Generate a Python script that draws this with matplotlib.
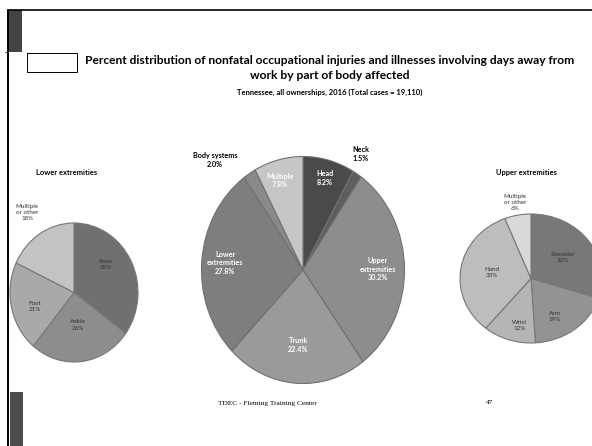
import matplotlib
matplotlib.use("Agg")
import matplotlib.pyplot as plt
from matplotlib.patches import Rectangle
import numpy as np

W, H = 592, 446

# ---- data -------------------------------------------------------------
body_parts = ["Head", "Neck", "Upper\nextremities", "Trunk", "Lower\nextremities",
              "Body systems", "Multiple"]
body_pct = [8.2, 1.5, 30.2, 22.4, 27.8, 2.0, 7.8]

lower_parts = ["Knee", "Ankle", "Foot", "Multiple\nor other"]
lower_pct = [35, 26, 21, 18]

upper_parts = ["Shoulder", "Arm", "Wrist", "Hand", "Multiple\nor other"]
upper_pct = [30, 19, 12, 33, 6]

title_text = ("Percent distribution of nonfatal occupational injuries and illnesses involving days away from\n"
              "work by part of body affected")
subtitle_text = "Tennessee, all ownerships, 2016 (Total cases = 19,110)"
footer_text = "TDEC - Fleming Training Center"
page_number = "47"

# ---- styling ----------------------------------------------------------
body_colors = ["#4a4a4a", "#5e5e5e", "#8d8d8d", "#9a9a9a", "#7e7e7e", "#8a8a8a", "#c6c6c6"]
lower_colors = ["#707070", "#8d8d8d", "#a9a9a9", "#c3c3c3"]
upper_colors = ["#787878", "#939393", "#b5b5b5", "#bdbdbd", "#d9d9d9"]

fig = plt.figure(figsize=(W / 100, H / 100), dpi=100)
fig.patch.set_facecolor("white")

# slide frame drawn in pixel coordinates
bg = fig.add_axes([0, 0, 1, 1], zorder=-5)
bg.set_xlim(0, W)
bg.set_ylim(H, 0)
bg.axis("off")
bg.plot([7, W], [10, 10], color="black", lw=1.2, solid_capstyle="butt")
bg.plot([8, 8], [10, H], color="black", lw=1.4, solid_capstyle="butt")
bg.plot([5, 8], [52, 52], color="black", lw=0.6, solid_capstyle="butt")
bg.add_patch(Rectangle((8, 10), 14, 42, color="#444444", lw=0))
bg.add_patch(Rectangle((9.5, 392), 13.5, H - 392, color="#4d4d4d", lw=0))
bg.add_patch(Rectangle((27, 53), 50, 19, facecolor="white", edgecolor="black", lw=0.7))

bg.text(330, 68, title_text, ha="center", va="center", fontsize=8.65,
        fontweight="bold", family="Lato", linespacing=1.42)
bg.text(330, 92, subtitle_text, ha="center", va="center", fontsize=5.5,
        fontweight="bold", family="Lato")
bg.text(267, 403, footer_text, ha="center", va="center", fontsize=5.3,
        family="Liberation Serif")
bg.text(490, 403, page_number, ha="center", va="center", fontsize=5.3,
        family="Liberation Serif")


def pie_axes(cx, cy, hw, hh):
    ax = fig.add_axes([(cx - hw) / W, (H - (cy + hh)) / H, 2 * hw / W, 2 * hh / H])
    return ax


def draw_pie(ax, values, colors, edge):
    wedges, _ = ax.pie(values, colors=colors, startangle=90, counterclock=False,
                       radius=1, wedgeprops=dict(edgecolor=edge, linewidth=0.8))
    ax.set_aspect("auto")
    ax.set_xlim(-1, 1)
    ax.set_ylim(-1, 1)
    return wedges


def place(ax, wedge, text, r, dang=0.0, **kw):
    ang = np.deg2rad((wedge.theta1 + wedge.theta2) / 2 + dang)
    ax.text(r * np.cos(ang), r * np.sin(ang), text, ha="center", va="center",
            family="Lato", linespacing=1.3, clip_on=False, **kw)


# ---- main pie ---------------------------------------------------------
ax_c = pie_axes(303, 270, 101.5, 113.5)
wc = draw_pie(ax_c, body_pct, body_colors, "#707070")
label_r = [0.84, 1.17, 0.74, 0.66, 0.77, 1.3, 0.82]
label_da = [0, 3, 0, 0, 0, 10, 2]
inside = [True, False, True, True, True, False, True]
for w, name, pct, r, da, ins in zip(wc, body_parts, body_pct, label_r, label_da, inside):
    place(ax_c, w, f"{name}\n{pct:.1f}%", r, da, fontsize=5.2, fontweight="bold",
          color="white" if ins else "black")

# ---- lower extremities pie --------------------------------------------
ax_l = pie_axes(74, 292.5, 64, 69.5)
wl = draw_pie(ax_l, lower_pct, lower_colors, "#777777")
lr = [0.64, 0.47, 0.64, 1.36]
lda = [12, 0, 6, 0]
for w, name, pct, r, da in zip(wl, lower_parts, lower_pct, lr, lda):
    place(ax_l, w, f"{name}\n{pct}%", r, da, fontsize=4.5, color="#333333")
ax_l.text(-0.11, 1.72, "Lower extremities", ha="center", va="center", family="Lato",
          fontsize=5.4, fontweight="bold", clip_on=False)

# ---- upper extremities pie --------------------------------------------
ax_r = pie_axes(531, 278.5, 71, 64.5)
wr = draw_pie(ax_r, upper_pct, upper_colors, "#777777")
rr = [0.56, 0.68, 0.75, 0.56, 1.2]
rda = [0, -8, 6, 0, 0]
for w, name, pct, r, da in zip(wr, upper_parts, upper_pct, rr, rda):
    place(ax_r, w, f"{name}\n{pct}%", r, da, fontsize=4.5, color="#333333")
ax_r.text(-0.07, 1.64, "Upper extremities", ha="center", va="center", family="Lato",
          fontsize=5.4, fontweight="bold", clip_on=False)

fig.savefig("out.png", dpi=100)
